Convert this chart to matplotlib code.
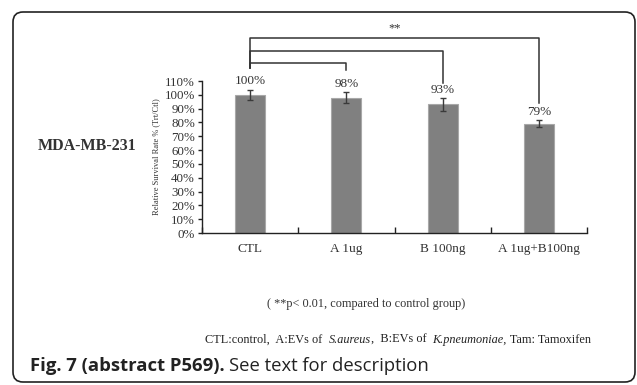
import matplotlib
matplotlib.use("Agg")
import matplotlib.pyplot as plt
from matplotlib.patches import FancyBboxPatch

# data
groups = ["CTL", "A 1ug", "B 100ng", "A 1ug+B100ng"]
survival = [100, 98, 93, 79]          # relative survival rate, %
errors = [3.8, 4.0, 4.5, 2.5]
yticks = list(range(0, 111, 10))
# significance brackets: (from, to, level %, bottom of left leg %, bottom of right leg %)
brackets = [(0, 3, 141, 119.5, 94), (0, 2, 131.5, 119.5, 108.5), (0, 1, 123, 119.5, 118)]

W, H = 637, 385
fig = plt.figure(figsize=(W / 100, H / 100), dpi=100)
serif = "Liberation Serif"

# rounded frame around the panel (inches, so the corners stay round)
frame = FancyBboxPatch((0.13, 0.03), 6.22, 3.70,
                       boxstyle="round,pad=0,rounding_size=0.1",
                       transform=fig.dpi_scale_trans, fill=False,
                       ec="#222222", lw=1.2, clip_on=False)
fig.patches.append(frame)

ax = fig.add_axes([202 / W, 1 - 233 / H, 385 / W, 152 / H])
x = list(range(len(groups)))
ax.bar(x, survival, width=0.31, color="#808080", edgecolor="#a8a8a8", lw=0.8)
ax.errorbar(x, survival, yerr=errors, fmt="none", ecolor="#3a3a3a",
            elinewidth=1.0, capsize=2.5, capthick=1.0)
for xi, v, e in zip(x, survival, errors):
    ax.annotate(f"{v}%", (xi, v + e), xytext=(0, 1.5), textcoords="offset points",
                ha="center", va="bottom", fontsize=9.5, family=serif, color="#333333")

ax.set_xlim(-0.5, len(groups) - 0.5)
ax.set_ylim(0, 110)
ax.set_yticks(yticks)
ax.set_yticklabels([f"{t}%" for t in yticks], family=serif, fontsize=9.3, color="#333333")
ax.set_xticks([i + 0.5 for i in range(-1, len(groups))])
ax.set_xticklabels([])
ax.set_xticks(x, minor=True)
ax.set_xticklabels(groups, minor=True, family=serif, fontsize=9.5, color="#333333")
ax.tick_params(axis="x", which="major", direction="in", length=4, width=1, color="#222222")
ax.tick_params(axis="x", which="minor", length=0, pad=7)
ax.tick_params(axis="y", direction="out", length=3, width=1, color="#222222", pad=2)
for s in ["top", "right"]:
    ax.spines[s].set_visible(False)
for s in ["left", "bottom"]:
    ax.spines[s].set_color("#222222")
    ax.spines[s].set_linewidth(1.0)
ax.set_ylabel("Relative Survival Rate % (Trt/Ctl)", family=serif, fontsize=6,
              color="#333333", labelpad=3)

# significance brackets
for a, b, lvl, la, lb in brackets:
    ax.plot([a, a, b, b], [la, lvl, lvl, lb], color="#333333", lw=1.1, clip_on=False)
ax.text(1.5, 148, "**", ha="center", va="center", family=serif, fontsize=9,
        color="#333333")

fig.text(87 / W, 1 - 146 / H, "MDA-MB-231", ha="center", va="center",
         family=serif, fontweight="bold", fontsize=11.5, color="#333333")
fig.text(366 / W, 1 - 304 / H, "( **p< 0.01, compared to control group)",
         ha="center", va="center", family=serif, fontsize=8.8, color="#333333")

# legend line with italic species names, laid out piece by piece
pieces = [("CTL:control,  A:EVs of  ", "normal"), ("S.aureus", "italic"),
          (",  B:EVs of  ", "normal"), ("K.pneumoniae,", "italic"),
          (" Tam: Tamoxifen", "normal")]
renderer = fig.canvas.get_renderer()
xpos = 205
for txt, style in pieces:
    t = fig.text(xpos / W, 1 - 340 / H, txt, ha="left", va="center", family=serif,
                 style=style, fontsize=8.8, color="#222222")
    xpos += t.get_window_extent(renderer).width

cap = fig.text(30 / W, 1 - 366 / H, "Fig. 7 (abstract P569).", ha="left", va="center",
               family="Open Sans", fontweight="bold", fontsize=13.3, color="#222222")
cw = cap.get_window_extent(renderer).width
fig.text((30 + cw + 4) / W, 1 - 366 / H, "See text for description", ha="left",
         va="center", family="Open Sans", fontsize=13.3, color="#222222")

fig.savefig("out.png", dpi=100)
